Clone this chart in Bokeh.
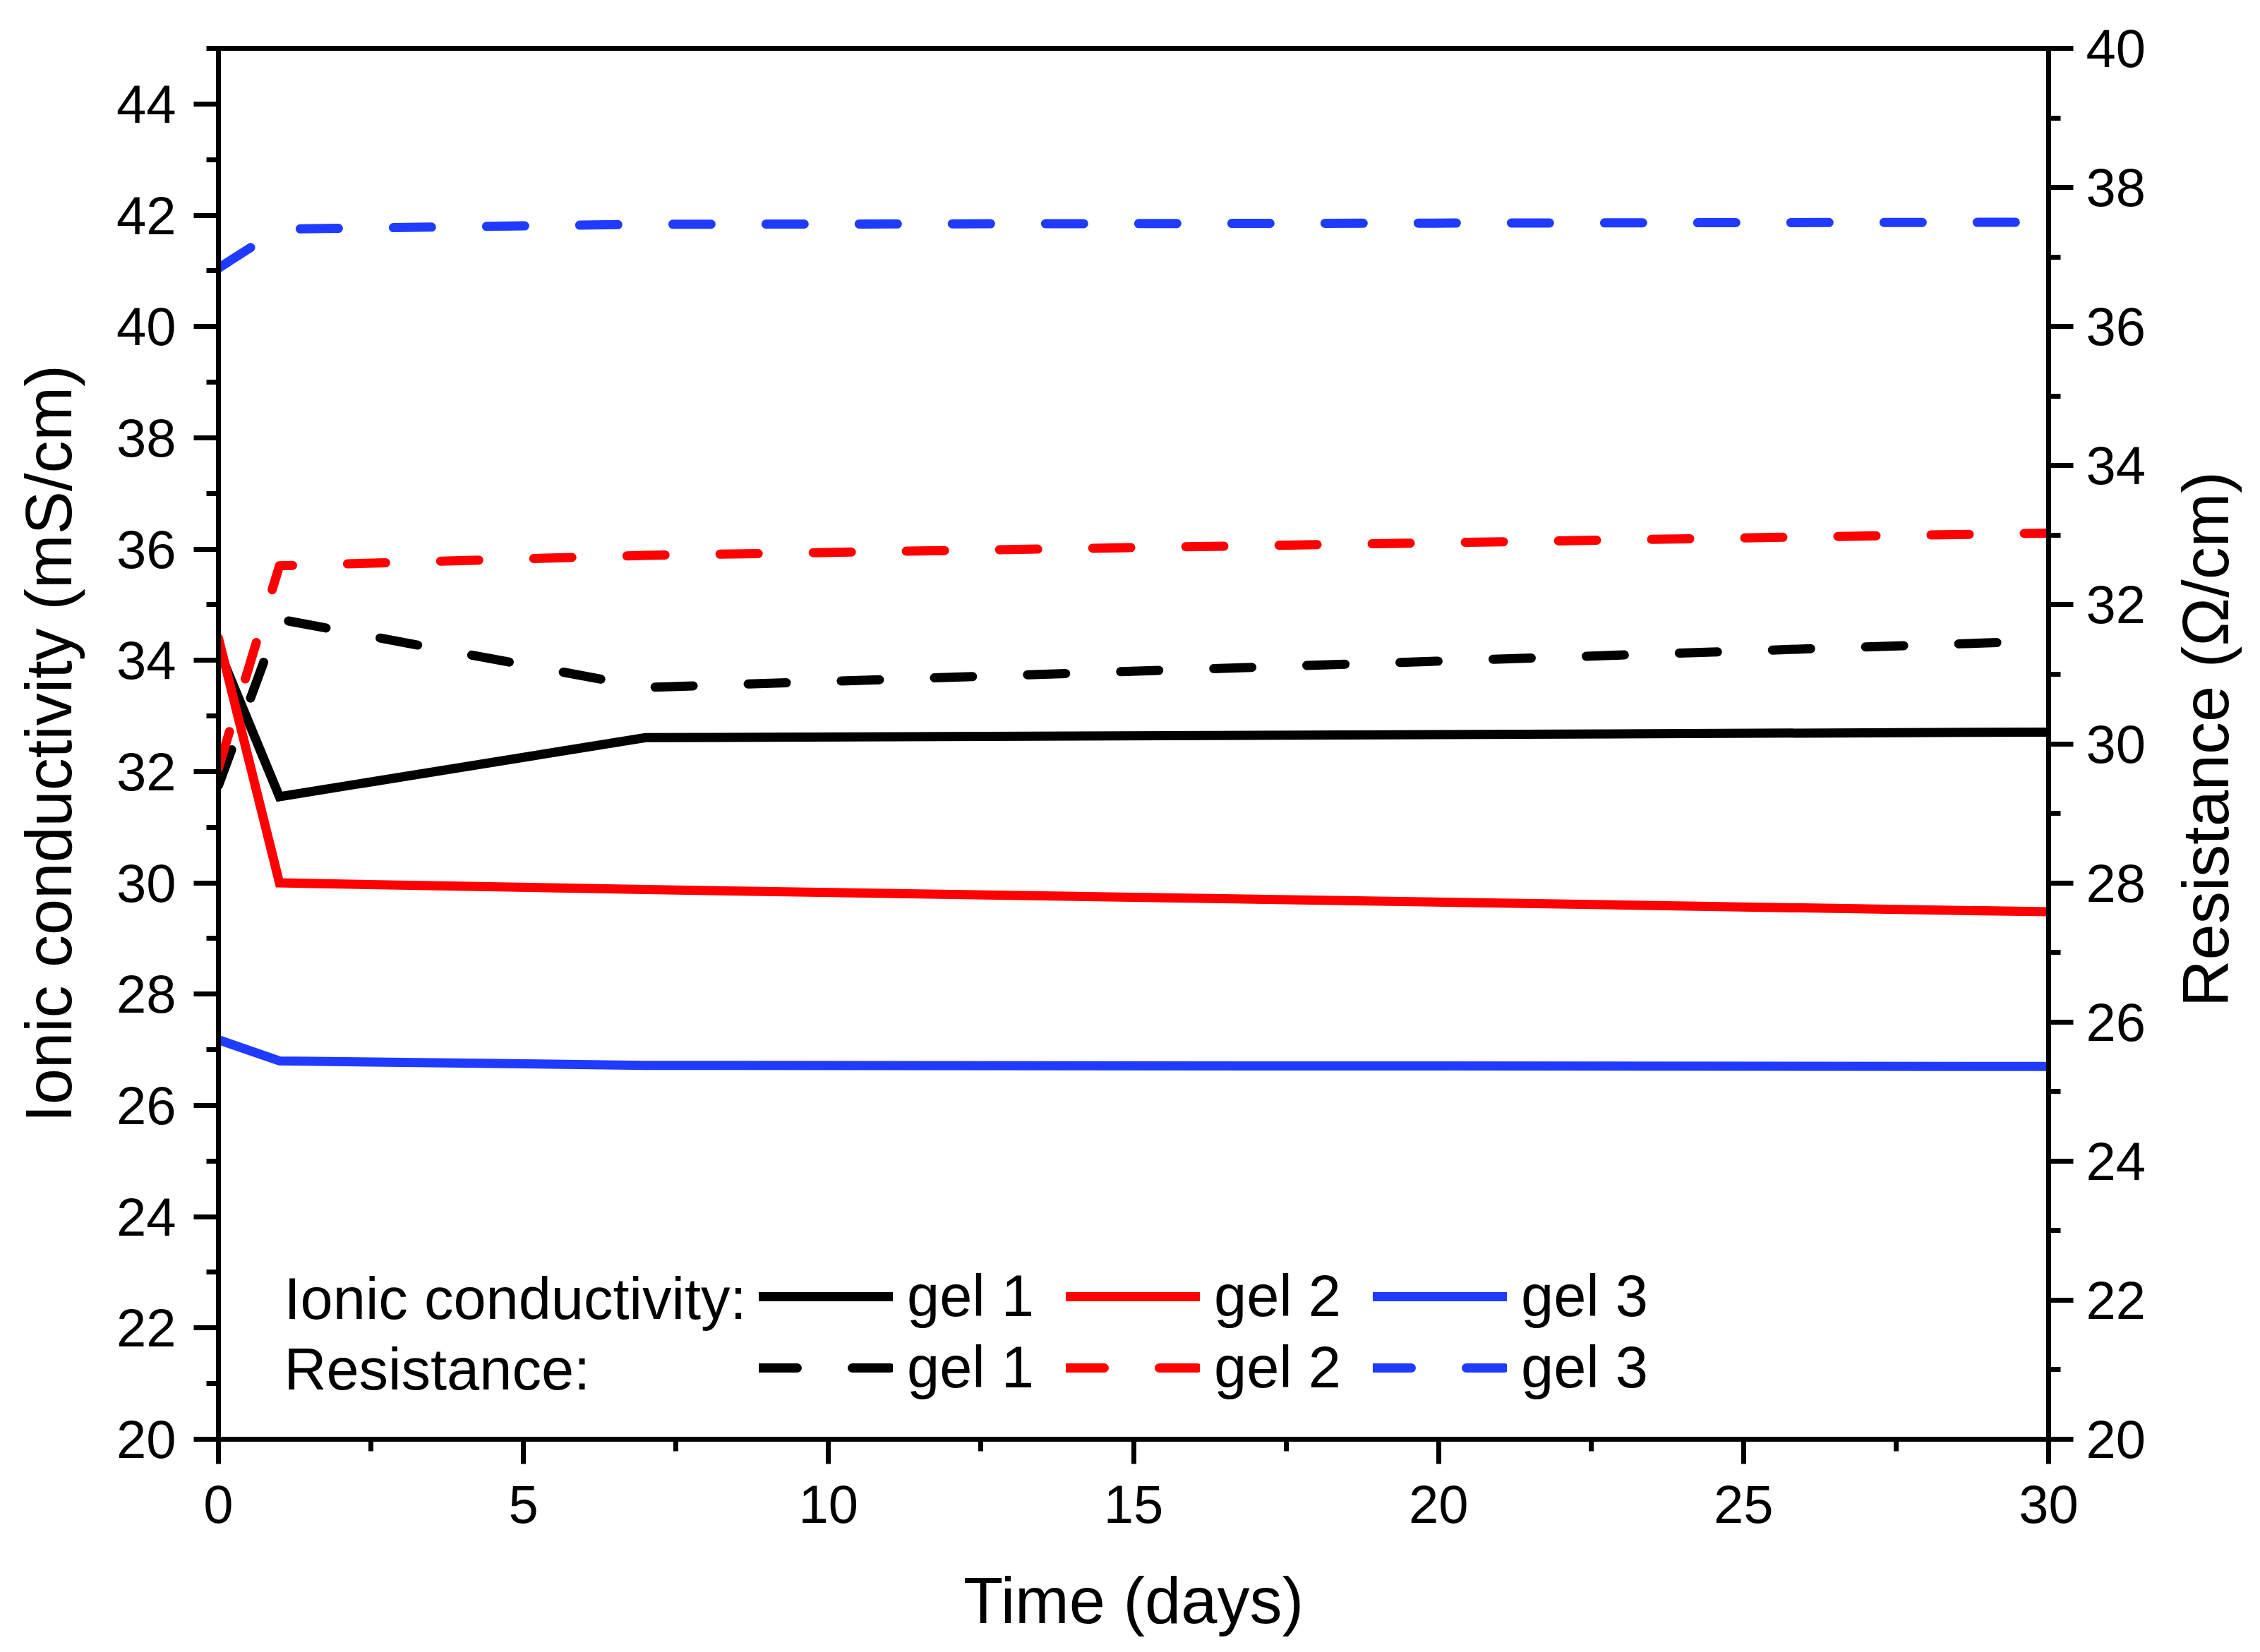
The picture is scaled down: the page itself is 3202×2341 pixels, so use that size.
import math
from bokeh.plotting import figure
from bokeh.models import Range1d, LinearAxis, SingleIntervalTicker, Legend, LegendItem, Label
from bokeh.embed import file_html
from bokeh.resources import INLINE

# ---- data ----
days = [0, 1, 7, 30]
cond_gel1 = [34.2, 31.55, 32.61, 32.71]
cond_gel2 = [34.4, 30.0, 29.88, 29.48]
cond_gel3 = [27.18, 26.8, 26.72, 26.7]
res_gel1 = [29.4, 31.79, 30.81, 31.48]
res_gel2 = [29.65, 32.56, 32.71, 33.03]
res_gel3 = [36.84, 37.4, 37.47, 37.5]
gel_labels = ["gel 1", "gel 2", "gel 3"]
colors = ["#000000", "#ff0000", "#1f3bff"]

FONT = "Liberation Sans"

p = figure(frame_width=2593, frame_height=1971,
           x_range=Range1d(0, 30), y_range=Range1d(20, 45),
           output_backend="svg", toolbar_location=None,
           min_border_left=309, min_border_right=284,
           min_border_top=68, min_border_bottom=294,
           background_fill_color="white", border_fill_color="white")
p.extra_y_ranges = {"res": Range1d(20, 40)}
p.xgrid.grid_line_color = None
p.ygrid.grid_line_color = None
p.outline_line_color = "black"
p.outline_line_width = 7

p.xaxis.ticker = SingleIntervalTicker(interval=5, num_minor_ticks=2)
p.yaxis.ticker = SingleIntervalTicker(interval=2, num_minor_ticks=2)
ax_r = LinearAxis(y_range_name="res", ticker=SingleIntervalTicker(interval=2, num_minor_ticks=2))
p.add_layout(ax_r, "right")

ax_x = p.xaxis[0]
ax_l = p.yaxis[0]
for ax in [ax_x, ax_l, ax_r]:
    ax.axis_line_width = 7
    ax.axis_line_color = "black"
    ax.major_tick_line_width = 7
    ax.minor_tick_line_width = 7
    ax.major_tick_line_color = "black"
    ax.minor_tick_line_color = "black"
    ax.major_tick_out = 35
    ax.major_tick_in = 0
    ax.minor_tick_out = 17
    ax.minor_tick_in = 0
    ax.major_label_text_font = FONT
    ax.major_label_text_font_size = "76px"
    ax.major_label_text_color = "black"
    ax.axis_label_text_font = FONT
    ax.axis_label_text_font_size = "92px"
    ax.axis_label_text_font_style = "normal"
    ax.axis_label_text_color = "black"

ax_x.axis_label = "Time (days)"
ax_x.major_label_standoff = 30
ax_x.axis_label_standoff = 56
ax_l.axis_label = "Ionic conductivity (mS/cm)"
ax_l.major_label_standoff = 25
ax_l.axis_label_standoff = 42
ax_r.major_label_standoff = 18

solid = []
for ys, c in zip([cond_gel1, cond_gel2, cond_gel3], colors):
    solid.append(p.line(days, ys, line_color=c, line_width=13,
                        line_join="miter", line_cap="round"))
dashed = []
for ys, c in zip([res_gel1, res_gel2, res_gel3], colors):
    dashed.append(p.line(days, ys, y_range_name="res", line_color=c, line_width=13,
                         line_dash="54 78", line_cap="round", line_join="round"))


def make_legend(rends, loc):
    leg = Legend(items=[LegendItem(label=l, renderers=[r]) for l, r in zip(gel_labels, rends)],
                 location=loc, orientation="horizontal",
                 border_line_color=None, background_fill_alpha=0,
                 padding=0, margin=0, spacing=45, label_standoff=20,
                 glyph_width=190, glyph_height=40,
                 label_text_font=FONT, label_text_font_size="83px",
                 label_text_color="black")
    return leg


p.add_layout(make_legend(solid, (766, 154)))
p.add_layout(make_legend(dashed, (766, 53)))

p.add_layout(Label(x=1.076, y=22.53, text="Ionic conductivity:", text_font=FONT,
                   text_font_size="83px", text_baseline="alphabetic", text_align="left",
                   text_color="black"))
p.add_layout(Label(x=1.076, y=21.26, text="Resistance:", text_font=FONT,
                   text_font_size="83px", text_baseline="alphabetic", text_align="left",
                   text_color="black"))

# right-hand axis title, placed in the right side panel (reads bottom to top)
p.add_layout(Label(x=81, x_units="screen", y=30.066, y_range_name="res",
                   angle=math.pi / 2, angle_units="rad",
                   text="Resistance (\u03a9/cm)", text_font=FONT,
                   text_font_size="92px", text_align="center", text_baseline="alphabetic",
                   text_color="black"), "right")

open("out.html", "w").write(file_html(p, INLINE))
